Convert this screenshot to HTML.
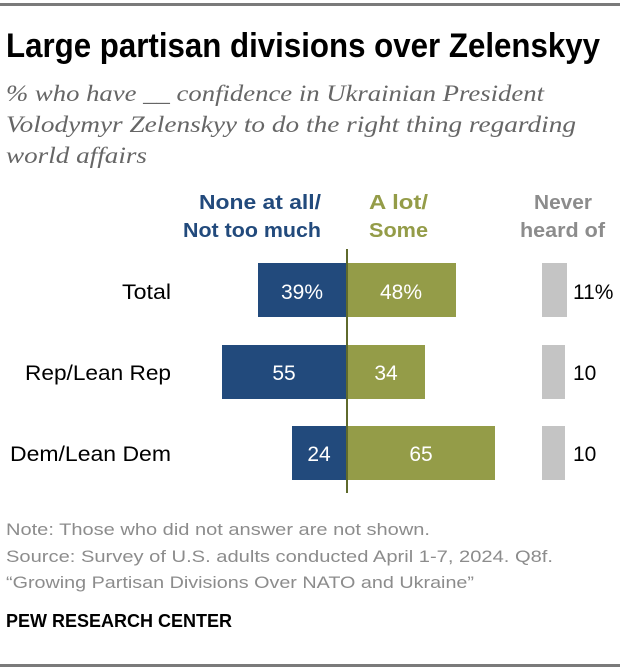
<!DOCTYPE html>
<html><head><meta charset="utf-8"><style>
html,body{margin:0;padding:0;background:#fff;}
svg{display:block;}
</style></head><body>
<svg width="620" height="668" viewBox="0 0 620 668" xmlns="http://www.w3.org/2000/svg">
<rect x="0" y="3" width="620" height="3" fill="#7a7a7a"/>
<text x="6" y="57" font-family="Liberation Sans Narrow, Liberation Sans, sans-serif" font-weight="bold" font-size="34" fill="#000" textLength="594" lengthAdjust="spacingAndGlyphs">Large partisan divisions over Zelenskyy</text>
<g font-family="Liberation Serif, serif" font-style="italic" font-size="23" fill="#666">
<text x="6" y="101" textLength="538" lengthAdjust="spacingAndGlyphs">% who have __ confidence in Ukrainian President</text>
<text x="6" y="132" textLength="570" lengthAdjust="spacingAndGlyphs">Volodymyr Zelenskyy to do the right thing regarding</text>
<text x="6" y="163" textLength="141" lengthAdjust="spacingAndGlyphs">world affairs</text>
</g>
<g font-family="Liberation Sans Narrow, Liberation Sans, sans-serif" font-weight="bold" font-size="20">
<text x="321" y="209" text-anchor="end" fill="#224a7c" textLength="122" lengthAdjust="spacingAndGlyphs">None at all/</text>
<text x="183" y="237" fill="#224a7c" textLength="138" lengthAdjust="spacingAndGlyphs">Not too much</text>
<text x="369" y="209" fill="#949c48" textLength="59" lengthAdjust="spacingAndGlyphs">A lot/</text>
<text x="369" y="237" fill="#949c48" textLength="59" lengthAdjust="spacingAndGlyphs">Some</text>
<text x="534" y="209" fill="#8c8c8c" textLength="58" lengthAdjust="spacingAndGlyphs">Never</text>
<text x="520" y="237" fill="#8c8c8c" textLength="85" lengthAdjust="spacingAndGlyphs">heard of</text>
</g>
<g fill="#224a7c">
<rect x="258" y="263" width="89" height="54"/>
<rect x="222" y="345" width="125" height="54"/>
<rect x="292" y="426" width="55" height="54"/>
</g>
<g fill="#949c48">
<rect x="347" y="263" width="109" height="54"/>
<rect x="347" y="345" width="78" height="54"/>
<rect x="347" y="426" width="148" height="54"/>
</g>
<g fill="#c4c4c4">
<rect x="542" y="263" width="25" height="54"/>
<rect x="542" y="345" width="23" height="54"/>
<rect x="542" y="426" width="23" height="54"/>
</g>
<rect x="346" y="249" width="2" height="244" fill="#5f6a2c"/>
<g font-family="Liberation Sans, sans-serif" font-size="21" fill="#fff" text-anchor="middle">
<text x="302" y="299">39%</text>
<text x="401" y="299">48%</text>
<text x="284" y="380">55</text>
<text x="386" y="380">34</text>
<text x="319" y="461">24</text>
<text x="421" y="461">65</text>
</g>
<g font-family="Liberation Sans, sans-serif" font-size="21" fill="#000">
<text x="573" y="299">11%</text>
<text x="573" y="380">10</text>
<text x="573" y="461">10</text>
<text x="122" y="299" textLength="49" lengthAdjust="spacingAndGlyphs">Total</text>
<text x="25" y="380" textLength="146" lengthAdjust="spacingAndGlyphs">Rep/Lean Rep</text>
<text x="10" y="461" textLength="161" lengthAdjust="spacingAndGlyphs">Dem/Lean Dem</text>
</g>
<g font-family="Liberation Sans Narrow, Liberation Sans, sans-serif" font-size="17" fill="#8c8c8c">
<text x="6" y="535" textLength="424" lengthAdjust="spacingAndGlyphs">Note: Those who did not answer are not shown.</text>
<text x="6" y="562" textLength="547" lengthAdjust="spacingAndGlyphs">Source: Survey of U.S. adults conducted April 1-7, 2024. Q8f.</text>
<text x="6" y="588" textLength="468" lengthAdjust="spacingAndGlyphs">“Growing Partisan Divisions Over NATO and Ukraine”</text>
</g>
<text x="6" y="627" font-family="Liberation Sans Narrow, Liberation Sans, sans-serif" font-weight="bold" font-size="18" fill="#000" textLength="226" lengthAdjust="spacingAndGlyphs">PEW RESEARCH CENTER</text>
<rect x="0" y="664" width="620" height="3" fill="#7a7a7a"/>
</svg>
</body></html>
